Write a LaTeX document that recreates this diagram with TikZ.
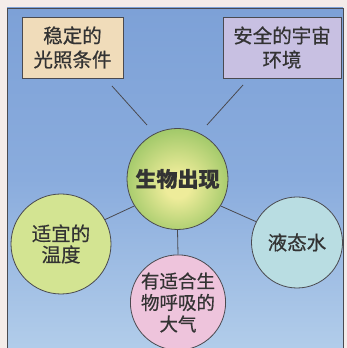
\documentclass[tikz,border=0pt]{standalone}
\usepackage{fontspec}
\newfontfamily\cjk[FakeBold=0.6]{Noto Sans CJK SC}
\newfontfamily\cjkb{Noto Sans CJK SC Bold}
\definecolor{paper}{HTML}{F4ECE9}
\definecolor{bgtop}{HTML}{7DA1D7}
\definecolor{bgmid}{HTML}{8AACDD}
\definecolor{bgbot}{HTML}{B2CDEA}
\definecolor{edge}{HTML}{4A4A50}
\definecolor{txt}{HTML}{333333}
\definecolor{tanbox}{HTML}{F0DCBA}
\definecolor{lavbox}{HTML}{C8C0E2}
\definecolor{cy}{HTML}{EEEC9A}
\definecolor{cg}{HTML}{8CBF5C}
\definecolor{lgreen}{HTML}{D3E492}
\definecolor{lcyan}{HTML}{B9DDE2}
\definecolor{lpink}{HTML}{EEC4DC}
\pgfdeclareradialshading{ball}{\pgfpoint{0bp}{-4bp}}{color(0bp)=(cy); color(6bp)=(cy); color(26bp)=(cg!75!cy); color(50bp)=(cg)}
\tikzset{
  box/.style={draw=edge, line width=0.8pt, minimum width=101pt, minimum height=61pt, inner sep=0pt,
    align=center, text=txt, font=\cjk\fontsize{19.5}{24}\selectfont},
  bubble/.style={circle, draw=edge, line width=0.8pt, inner sep=0pt, align=center, text=txt,
    font=\cjk\fontsize{19.5}{21}\selectfont},
  link/.style={draw=edge, line width=0.8pt}
}
\begin{document}
\begin{tikzpicture}[x=1pt,y=1pt]
\useasboundingbox (0,0) rectangle (347,348);
\fill[paper] (0,0) rectangle (347,348);
\shade[top color=bgtop, bottom color=bgbot, middle color=bgmid] (7,-2) rectangle (343,340);
\draw[edge, line width=0.9pt] (7,-2) -- (7,340) -- (343,340) -- (343,-2);
% boxes
\node[box, fill=tanbox] (light) at (72.5,300.5) {稳定的\\光照条件};
\node[box, fill=lavbox, minimum width=118pt] (space) at (282,300.5) {安全的宇宙\\环境};
% circles
\node[bubble, minimum size=101pt, shading=ball, font=\cjk\bfseries\fontsize{21}{24}\selectfont] (life) at (177.5,169) {生物出现};
\node[bubble, minimum size=100pt, fill=lgreen] (temp) at (61,104) {适宜的\\温度};
\node[bubble, minimum size=91pt, fill=lcyan] (water) at (297,105.5) {液态水};
\node[bubble, minimum size=90pt, fill=lpink, font=\cjk\fontsize{18.5}{21.5}\selectfont] (air) at (178,45.5) {有适合生\\物呼吸的\\大气};
% connectors
\coordinate (la) at (112,262);
\coordinate (lb) at (147,223);
\coordinate (sa) at (243,263);
\coordinate (sb) at (207,223);
\draw[link] (la) -- (lb);
\draw[link] (sa) -- (sb);
\draw[link] (life.212) -- (temp.29);
\draw[link] (life.328) -- (water.153);
\draw[link] (life.south) -- (air.north);
\end{tikzpicture}
\end{document}
